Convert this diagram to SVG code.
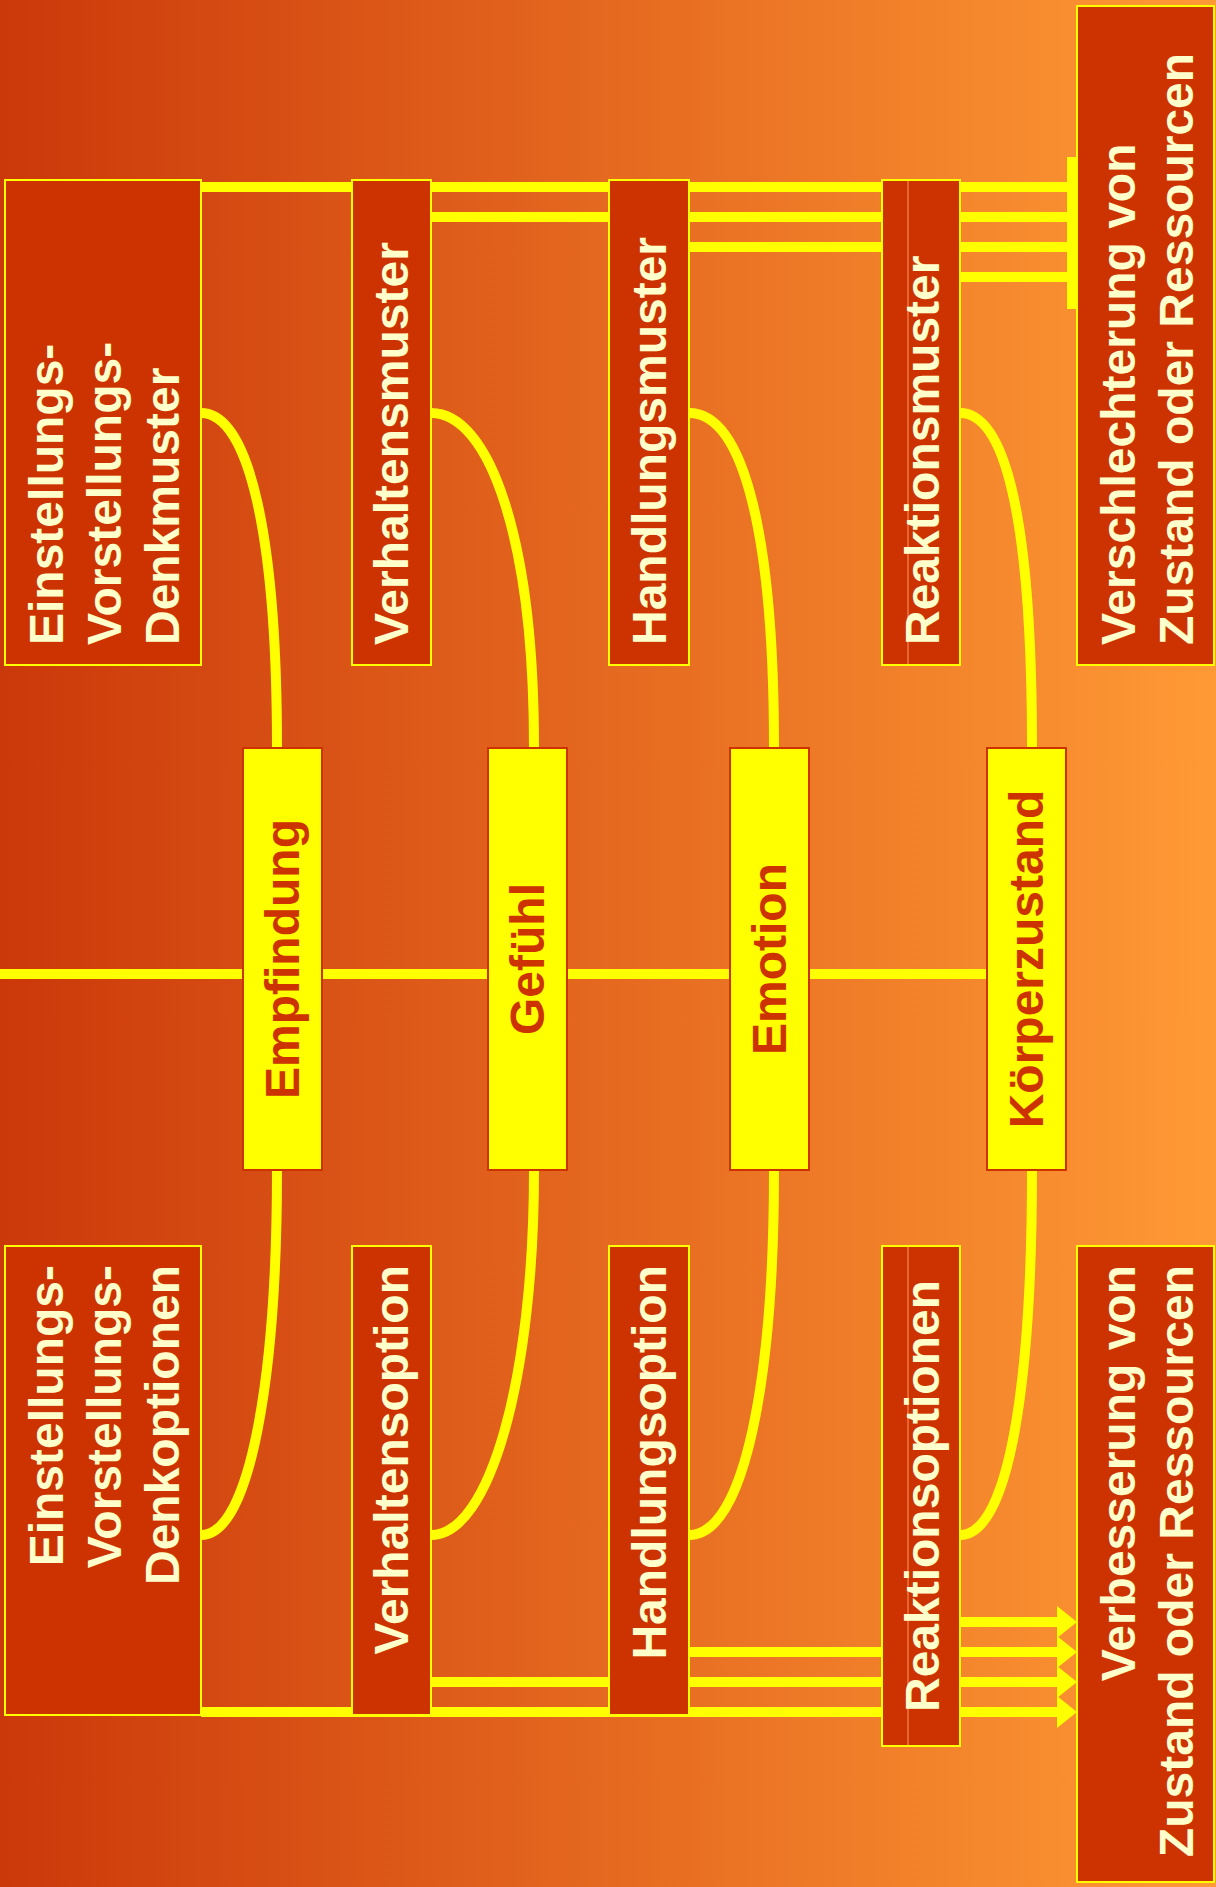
<svg xmlns="http://www.w3.org/2000/svg" width="1216" height="1887" viewBox="0 0 1216 1887">
  <defs>
    <linearGradient id="bg" x1="0" y1="0" x2="1216" y2="0" gradientUnits="userSpaceOnUse">
      <stop offset="0" stop-color="#CB380A"/>
      <stop offset="1" stop-color="#FF9A35"/>
    </linearGradient>
    <marker id="arrow" markerUnits="userSpaceOnUse" markerWidth="20" markerHeight="32" refX="0" refY="16" orient="auto" overflow="visible">
      <path d="M0,0 L20,16 L0,32 Z" fill="#FFFF00"/>
    </marker>
    <style>
      .box { fill: #CC3300; stroke: #FFFF00; stroke-width: 2; }
      .mid { fill: #FFFF00; stroke: #CC3300; stroke-width: 2; }
      .seam { stroke: #FF9966; stroke-width: 1; }
      .lbl { font-family: "Liberation Sans", Arial, sans-serif; font-weight: bold; font-size: 48px; fill: #FFFFCC; }
      .mlbl { font-family: "Liberation Sans", Arial, sans-serif; font-weight: bold; font-size: 48px; fill: #CC3300; text-anchor: middle; }
      .end { text-anchor: end; }
      .ctr { text-anchor: middle; }
      .bar { stroke: #FFFF00; stroke-width: 10; fill: none; }
      .flow { stroke: #FFFF00; stroke-width: 10; fill: none; }
      .arr { stroke: #FFFF00; stroke-width: 10; fill: none; marker-end: url(#arrow); }
    </style>
  </defs>

  <rect x="0" y="0" width="1216" height="1887" fill="url(#bg)"/>

  <g id="connectors">
    <!-- central axis through the four states -->
    <line class="bar" x1="0" y1="974" x2="987" y2="974"/>

    <!-- pattern rows feeding the worsening block -->
    <line class="bar" x1="201" y1="187" x2="1068" y2="187"/>
    <line class="bar" x1="431" y1="217" x2="1068" y2="217"/>
    <line class="bar" x1="689" y1="247" x2="1068" y2="247"/>
    <line class="bar" x1="960" y1="277" x2="1068" y2="277"/>
    <rect x="1067" y="157" width="11" height="152" fill="#FFFF00"/>

    <!-- option rows with arrows into the improvement block -->
    <line class="arr" x1="201" y1="1712" x2="1057" y2="1712"/>
    <line class="arr" x1="431" y1="1682" x2="1057" y2="1682"/>
    <line class="arr" x1="689" y1="1652" x2="1057" y2="1652"/>
    <line class="arr" x1="960" y1="1622" x2="1057" y2="1622"/>

    <!-- upper arcs: pattern box to state -->
    <path class="flow" d="M201,413 C250,413 277,540 277,748"/>
    <path class="flow" d="M431,413 C490,413 534,540 534,748"/>
    <path class="flow" d="M689,413 C745,413 774,540 774,748"/>
    <path class="flow" d="M960,413 C1010,413 1032,540 1032,748"/>

    <!-- lower arcs: state to option box -->
    <path class="flow" d="M277,1170 C277,1378 250,1535 201,1535"/>
    <path class="flow" d="M534,1170 C534,1378 490,1535 431,1535"/>
    <path class="flow" d="M774,1170 C774,1378 745,1535 689,1535"/>
    <path class="flow" d="M1032,1170 C1032,1378 1010,1535 960,1535"/>
  </g>

  <!-- upper row -->
  <g id="denkmuster">
    <rect class="box" x="5" y="180" width="196" height="485"/>
    <text class="lbl" transform="translate(63,645) rotate(-90)">Einstellungs-</text>
    <text class="lbl" transform="translate(121,645) rotate(-90)">Vorstellungs-</text>
    <text class="lbl" transform="translate(179,645) rotate(-90)">Denkmuster</text>
  </g>
  <g id="verhaltensmuster">
    <rect class="box" x="352" y="180" width="79" height="485"/>
    <text class="lbl" transform="translate(408,645) rotate(-90)">Verhaltensmuster</text>
  </g>
  <g id="handlungsmuster">
    <rect class="box" x="609" y="180" width="80" height="485"/>
    <text class="lbl" transform="translate(666,645) rotate(-90)">Handlungsmuster</text>
  </g>
  <g id="reaktionsmuster">
    <rect class="box" x="882" y="180" width="78" height="485"/>
    <line class="seam" x1="908" y1="181" x2="908" y2="664"/>
    <text class="lbl" transform="translate(939,645) rotate(-90)">Reaktionsmuster</text>
  </g>
  <g id="verschlechterung">
    <rect class="box" x="1077" y="6" width="137" height="659"/>
    <text class="lbl" transform="translate(1135,645) rotate(-90)">Verschlechterung von</text>
    <text class="lbl" transform="translate(1193,645) rotate(-90)">Zustand oder Ressourcen</text>
  </g>

  <!-- middle row -->
  <g id="empfindung">
    <rect class="mid" x="243" y="748" width="79" height="422"/>
    <text class="mlbl" transform="translate(299,959) rotate(-90)">Empfindung</text>
  </g>
  <g id="gefuehl">
    <rect class="mid" x="488" y="748" width="79" height="422"/>
    <text class="mlbl" transform="translate(544,959) rotate(-90)">Gefühl</text>
  </g>
  <g id="emotion">
    <rect class="mid" x="730" y="748" width="79" height="422"/>
    <text class="mlbl" transform="translate(786,959) rotate(-90)">Emotion</text>
  </g>
  <g id="koerperzustand">
    <rect class="mid" x="987" y="748" width="79" height="422"/>
    <text class="mlbl" transform="translate(1043,959) rotate(-90)">Körperzustand</text>
  </g>

  <!-- lower row -->
  <g id="denkoptionen">
    <rect class="box" x="5" y="1246" width="196" height="469"/>
    <text class="lbl end" transform="translate(63,1265) rotate(-90)">Einstellungs-</text>
    <text class="lbl end" transform="translate(121,1265) rotate(-90)">Vorstellungs-</text>
    <text class="lbl end" transform="translate(179,1265) rotate(-90)">Denkoptionen</text>
  </g>
  <g id="verhaltensoption">
    <rect class="box" x="352" y="1246" width="79" height="469"/>
    <text class="lbl end" transform="translate(408,1265) rotate(-90)">Verhaltensoption</text>
  </g>
  <g id="handlungsoption">
    <rect class="box" x="609" y="1246" width="80" height="469"/>
    <text class="lbl end" transform="translate(666,1265) rotate(-90)">Handlungsoption</text>
  </g>
  <g id="reaktionsoptionen">
    <rect class="box" x="882" y="1246" width="78" height="500"/>
    <line class="seam" x1="908" y1="1247" x2="908" y2="1745"/>
    <text class="lbl ctr" transform="translate(939,1496) rotate(-90)">Reaktionsoptionen</text>
  </g>
  <g id="verbesserung">
    <rect class="box" x="1077" y="1246" width="137" height="636"/>
    <text class="lbl end" transform="translate(1135,1265) rotate(-90)">Verbesserung von</text>
    <text class="lbl end" transform="translate(1193,1265) rotate(-90)">Zustand oder Ressourcen</text>
  </g>
</svg>
